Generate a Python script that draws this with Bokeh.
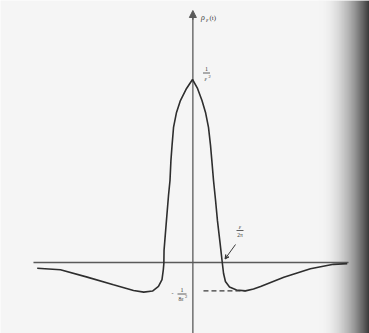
from bokeh.plotting import figure
from bokeh.models import Range1d, Arrow, NormalHead, VeeHead
from bokeh.core.properties import value
from bokeh.embed import file_html
from bokeh.resources import INLINE

# ---- data (t in arbitrary units, rho_eps(t) relative to 1/eps^2) ----
t_vals = [-0.835, -0.710, -0.566, -0.425, -0.317, -0.262, -0.215, -0.183, -0.164,
          -0.157, -0.154, -0.153, -0.140, -0.129, -0.121, -0.116, -0.110, -0.102,
          -0.086, -0.065, -0.032, 0.0,
          0.027, 0.051, 0.070, 0.086, 0.097, 0.104, 0.113, 0.124, 0.134, 0.148,
          0.160, 0.167, 0.177, 0.199, 0.237, 0.285, 0.328, 0.366, 0.491, 0.634,
          0.758, 0.832]
rho_vals = [-0.031, -0.040, -0.080, -0.122, -0.153, -0.162, -0.156, -0.131, -0.093,
            -0.040, -0.005, 0.066, 0.230, 0.366, 0.448, 0.557, 0.639, 0.738,
            0.820, 0.885, 0.951, 1.0,
            0.951, 0.885, 0.820, 0.738, 0.639, 0.557, 0.448, 0.339, 0.230, 0.109,
            0.0, -0.060, -0.104, -0.134, -0.150, -0.155, -0.145, -0.131, -0.080, -0.034,
            -0.010, -0.006]
peak_value = 1.0          # 1/eps^2
min_value = -0.155        # -1/(8 eps^2)
min_t = 0.285
zero_cross_t = 0.160      # eps/(2 pi)
axis_t_extent = [-0.855, 0.839]
axis_rho_extent = [-0.40, 1.377]

W, H = 369, 333

def px(x, y):
    return (x - 192) / 186.0, (262 - y) / 183.0

X0, Y1 = px(0, 0)
X1, Y0 = px(W, H)

p = figure(width=W, height=H, output_backend="svg", toolbar_location=None,
           x_range=Range1d(X0, X1), y_range=Range1d(Y0, Y1),
           x_axis_type=None, y_axis_type=None, min_border=0)
p.outline_line_color = None
p.background_fill_color = "#f5f5f5"
p.border_fill_color = "#f5f5f5"

# scanned-page shading on the right edge
g0 = px(318, 0)[0]
n = 51
lefts, rights, cols = [], [], []
for i in range(n):
    f = i / (n - 1)
    g = int(245 - (245 - 45) * f ** 2)
    a = g0 + (X1 - g0) * i / n
    b = g0 + (X1 - g0) * (i + 1) / n + 0.002
    lefts.append(a); rights.append(b); cols.append("#%02x%02x%02x" % (g, g, g))
p.quad(left=lefts, right=rights, bottom=Y0, top=Y1, fill_color=cols, line_color=None)

axis_col = "#5a5a5a"
# axes
p.line(axis_t_extent, [0, 0], line_color=axis_col, line_width=1.3)
p.line([0.002, 0.002], [axis_rho_extent[0], axis_rho_extent[1] - 0.03], line_color=axis_col, line_width=1.3)
p.add_layout(Arrow(end=NormalHead(size=7, fill_color=axis_col, line_color=axis_col),
                   x_start=0.002, y_start=axis_rho_extent[1] - 0.05,
                   x_end=0.002, y_end=axis_rho_extent[1],
                   line_color=axis_col, line_width=1.3))

# curve
p.line(t_vals, rho_vals, line_color="#2e2e2e", line_width=1.6)

# dashed level at minimum
p.line([0.059, min_t], [min_value, min_value], line_color="#3a3a3a", line_width=1.1, line_dash="5 3")

serif = value("Liberation Serif")
tc = "#3a3a3a"

def txt(x, y, s, size, align="center", style="normal"):
    tx, ty = px(x, y)
    p.text(x=[tx], y=[ty], text=[s], text_font=serif, text_font_size=f"{size}px",
           text_align=align, text_baseline="middle", text_color=tc,
           text_font_style=style)

def bar(x0, x1, y):
    a, yy = px(x0, y)
    b, _ = px(x1, y)
    p.line([a, b], [yy, yy], line_color=tc, line_width=0.8)

# rho_eps(t)
txt(200.5, 17, "ρ", 8, "left", "italic")
txt(205.5, 19.5, "ε", 6, "left", "italic")
txt(209, 17, "(t)", 7, "left")

# 1/eps^2 at peak
txt(206, 68.5, "1", 6)
bar(202.5, 209.5, 72.5)
txt(205.3, 78, "ε", 6, "center", "italic")
txt(209.2, 75.5, "2", 4.5)

# eps/(2 pi)
txt(239.5, 226.5, "ε", 6, "center", "italic")
bar(236, 243, 230)
txt(239.5, 234.5, "2π", 5.5)
a0 = px(235, 244)
a1 = px(224.5, 258.5)
p.add_layout(Arrow(end=VeeHead(size=4, line_color=tc, line_width=1), x_start=a0[0], y_start=a0[1],
                   x_end=a1[0], y_end=a1[1], line_color=tc, line_width=1))

# -1/(8 eps^2)
txt(172, 292.5, "-", 6)
txt(181.5, 289.5, "1", 6)
bar(177, 186, 293.5)
txt(180.5, 298.5, "8ε", 5.5)
txt(185.5, 296, "2", 4.5)

open("out.html", "w").write(file_html(p, INLINE))
